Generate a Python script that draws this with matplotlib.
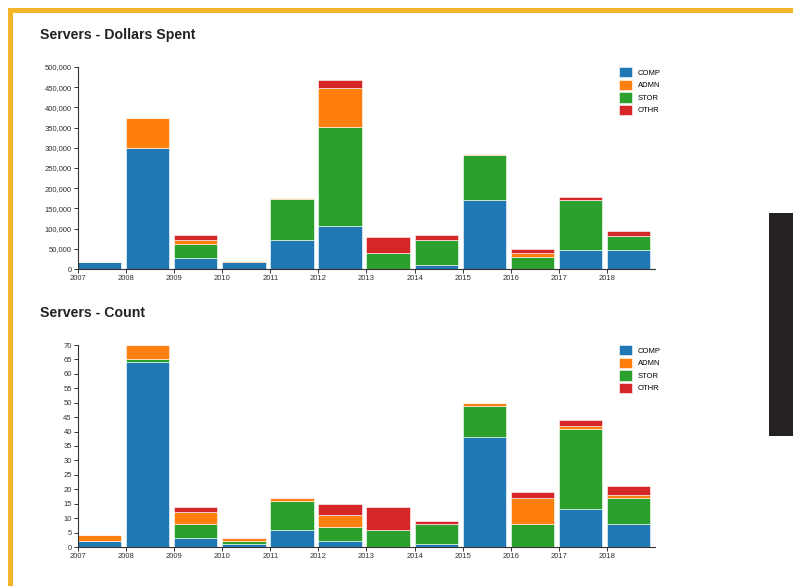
import numpy as np
import matplotlib.pyplot as plt
from matplotlib.patches import Rectangle
from matplotlib.ticker import FuncFormatter

plt.rcParams["font.family"] = ["Liberation Sans", "DejaVu Sans"]

years = np.arange(2007, 2019)
categories = ["COMP", "ADMN", "STOR", "OTHR"]
colors = {"COMP": "#1f77b4", "ADMN": "#ff7f0e", "STOR": "#2ca02c", "OTHR": "#d62728"}
stack_order = ["COMP", "STOR", "ADMN", "OTHR"]

# dollars spent per year, by category
dollars_comp = [18000, 300000, 27000, 18000, 72000, 106000, 0, 10000, 170000, 0, 47000, 47000]
dollars_admn = [0, 75000, 11000, 3000, 3000, 97000, 0, 0, 3000, 11000, 2000, 0]
dollars_stor = [0, 0, 35000, 0, 101000, 245000, 39000, 63000, 112000, 29000, 123000, 34000]
dollars_othr = [0, 0, 11000, 0, 0, 19000, 39000, 10000, 0, 10000, 7000, 14000]

# server count per year, by category
count_comp = [2, 64, 3, 1, 6, 2, 0, 1, 38, 0, 13, 8]
count_admn = [2, 5, 4, 1, 1, 4, 0, 0, 1, 9, 1, 1]
count_stor = [0, 1, 5, 1, 10, 5, 6, 7, 11, 8, 28, 9]
count_othr = [0, 0, 2, 0, 0, 4, 8, 1, 0, 2, 2, 3]

fig = plt.figure(figsize=(7.93, 5.86), dpi=100)

# page frame
fig.add_artist(Rectangle((8 / 793, 0), 5 / 793, 1 - 8 / 586, transform=fig.transFigure,
                         color="#f2b52a", lw=0))
fig.add_artist(Rectangle((8 / 793, 1 - 13 / 586), 1, 5 / 586, transform=fig.transFigure,
                         color="#f2b52a", lw=0))
fig.add_artist(Rectangle((769 / 793, 1 - 436 / 586), 24 / 793, 223 / 586,
                         transform=fig.transFigure, color="#262222", lw=0))


def stacked(ax, series, ymax, step, fmt):
    bottom = np.zeros(len(years))
    handles = {}
    for name in stack_order:
        vals = np.array(series[name], dtype=float)
        handles[name] = ax.bar(years, vals, width=0.9, bottom=bottom, align="edge",
                               color=colors[name], edgecolor="white", linewidth=0.4)
        bottom += vals
    ax.set_xlim(2007, 2019)
    ax.set_ylim(0, ymax)
    ax.set_xticks(years)
    ax.set_yticks(np.arange(0, ymax + 1, step))
    ax.yaxis.set_major_formatter(FuncFormatter(fmt))
    for s in ["top", "right"]:
        ax.spines[s].set_visible(False)
    for s in ["left", "bottom"]:
        ax.spines[s].set_color("#333333")
        ax.spines[s].set_linewidth(0.8)
    ax.tick_params(labelsize=5.5, length=3, width=0.7, colors="#333333", pad=1.5)
    ax.margins(0)
    ax.legend([handles[c] for c in categories], categories, loc="upper left",
              bbox_to_anchor=(0.938, 1.0), frameon=False, fontsize=5.5,
              handlelength=1.7, handleheight=1.7, handletextpad=0.7,
              labelspacing=0.3, borderaxespad=0, borderpad=0)


ax1 = fig.add_axes([78 / 793, 1 - 269 / 586, 577 / 793, 202 / 586])
stacked(ax1, {"COMP": dollars_comp, "ADMN": dollars_admn, "STOR": dollars_stor,
              "OTHR": dollars_othr}, 500000, 50000, lambda v, p: f"{int(v):,}")

ax2 = fig.add_axes([78 / 793, 1 - 547 / 586, 577 / 793, 202 / 586])
stacked(ax2, {"COMP": count_comp, "ADMN": count_admn, "STOR": count_stor,
              "OTHR": count_othr}, 70, 5, lambda v, p: f"{int(v)}")

fig.text(40 / 793, 1 - 35 / 586, "Servers - Dollars Spent", fontsize=10.2,
         fontweight="bold", va="center", color="#222222")
fig.text(40 / 793, 1 - 313 / 586, "Servers - Count", fontsize=10.2,
         fontweight="bold", va="center", color="#222222")

fig.savefig("out.png", dpi=100)
